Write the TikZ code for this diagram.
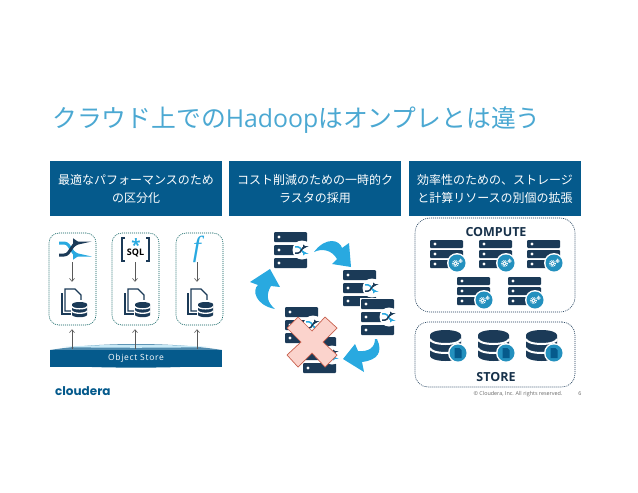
\documentclass[tikz,border=0pt]{standalone}
\usepackage{fontspec}
\setmainfont{Noto Sans CJK JP}
\newfontfamily\latinfont{Open Sans}
\newfontfamily\logofont{Poppins}
\usetikzlibrary{arrows.meta}
\definecolor{barblue}{HTML}{055A8C}
\definecolor{navybar}{HTML}{1B3A57}
\definecolor{skyblue}{HTML}{29A9E0}
\definecolor{titleblue}{HTML}{4BA8D2}
\definecolor{crossfill}{HTML}{FBD3CC}
\definecolor{crossline}{HTML}{C8604E}
\newcommand{\rackglyph}[3]{
    \foreach \k in {0,1,2} {
        \fill[navybar, rounded corners=1pt] (0,{\k*(#2+#3)}) rectangle ++(#1,#2);
        \fill[white] (5,{\k*(#2+#3)+#2/2}) circle (1.6);
    }
}
\newcommand{\shuffleglyph}[3]{
    \draw[skyblue, line width=#1, -{Triangle[length=#2,width=#3]}]
        (-13,-6) -- (-8,-6) .. controls (-1,-6) and (-1,6) .. (6,6) -- (8,6);
    \draw[navybar, line width=#1, -{Triangle[length=#2,width=#3]}]
        (-13,6) -- (-8,6) .. controls (-1,6) and (-1,-6) .. (6,-6) -- (8,-6);
}
\newcommand{\dbglyph}[1]{
    \fill[navybar] (0,5) arc[start angle=180, end angle=360, x radius=15.5, y radius=5]
        -- (31,26) arc[start angle=0, end angle=180, x radius=15.5, y radius=5] -- cycle;
    \draw[white, line width=#1] (0,9) arc[start angle=180, end angle=0, x radius=15.5, y radius=5];
    \draw[white, line width=#1] (0,18) arc[start angle=180, end angle=0, x radius=15.5, y radius=5];
}
\tikzset{
    headerbox/.style={
        fill=barblue,
        text=white,
        minimum width=172,
        minimum height=55,
        align=center,
        font=\fontsize{12}{18}\selectfont
    },
    groupbox/.style={
        draw=#1,
        dash pattern=on 1pt off 1pt,
        line width=.6pt,
        rounded corners=10pt,
        inner sep=0pt
    },
    iconbox/.style={minimum width=27, inner sep=0pt},
    feed/.style={draw=black!65, line width=.6pt, -{Straight Barb[length=3pt,width=5pt]}},
    bigletters/.style={font=\latinfont\bfseries\fontsize{12.5}{14}\selectfont, text=navybar!85!black},
    blockarrow/.style={fill=skyblue},
    rackbig/.pic={\rackglyph{33}{10}{3}},
    racksmall/.pic={\rackglyph{33}{8}{2}},
    shufflebadge/.pic={
        \fill[white] (0,0) circle (9.5);
        \begin{scope}[scale=.52]
            \shuffleglyph{1.5pt}{3pt}{4.5pt}
        \end{scope}
    },
    gearbadge/.pic={
        \fill[white] (0,0) circle (10);
        \fill[skyblue!85!black] (0,0) circle (8.5);
        \draw[white, line width=.9pt] (-1.5,.5) circle (1.8);
        \draw[white, line width=1pt, dash pattern=on .9pt off .9pt] (-1.5,.5) circle (3);
        \draw[white, line width=.6pt] (3.5,-2) circle (1);
        \draw[white, line width=.7pt, dash pattern=on .7pt off .7pt] (3.5,-2) circle (1.8);
    },
    docbadge/.pic={
        \fill[white] (0,0) circle (10);
        \fill[skyblue!85!black] (0,0) circle (8.5);
        \fill[barblue] (-3.5,-5) -- (1.5,-5) -- (3.5,-3) -- (3.5,5) -- (-3.5,5) -- cycle;
    },
    dbpic/.pic={\dbglyph{2pt}},
    filedb/.pic={
        \draw[navybar, line width=1.2pt] (1,5) -- (1,26) -- (15,26);
        \draw[navybar, line width=1.2pt, fill=white] (4,1) -- (14,1) -- (20,7) -- (20,23) -- (4,23) -- cycle;
        \fill[white] (9.5,12) rectangle (27.5,32);
        \begin{scope}[shift={(11,14)}, scale=.49]
            \dbglyph{1.3pt}
        \end{scope}
    }
}
\begin{document}
\begin{tikzpicture}[x=1pt, y=-1pt]
    \useasboundingbox (0,0) rectangle (638,493);

    \node[
        anchor=west,
        text=titleblue,
        inner sep=0pt,
        font=\fontsize{24.8}{28}\selectfont,
        name=title
    ] at (52,120) {クラウド上での{\latinfont Hadoop}はオンプレとは違う};

    \node[headerbox, name=headA] at (136,188.5) {最適なパフォーマンスのため\\の区分化};
    \node[headerbox, name=headB] at (315,188.5) {コスト削減のための一時的ク\\ラスタの採用};
    \node[headerbox, name=headC] at (495,188.5) {効率性のための、ストレージ\\と計算リソースの別個の拡張};

    \node[groupbox=teal!70!black, minimum width=47, minimum height=92, name=boxA] at (72.5,279) {};
    \node[groupbox=teal!70!black, minimum width=47, minimum height=92, name=boxB] at (135.5,279) {};
    \node[groupbox=teal!70!black, minimum width=47, minimum height=92, name=boxC] at (199.5,279) {};

    \node[iconbox, minimum height=26, name=shuffleA] at (72,249) {};
    \node[iconbox, minimum height=26, name=sqlB] at (135,249) {};
    \node[iconbox, minimum height=26, name=funcC] at (197,249) {};
    \node[iconbox, minimum height=47, name=filedbA] at (72,305.5) {};
    \node[iconbox, minimum height=47, name=filedbB] at (135,305.5) {};
    \node[iconbox, minimum height=47, name=filedbC] at (197,305.5) {};

    \pic at (72,249) {code={\shuffleglyph{3pt}{7pt}{9pt}}};
    \draw[navybar, line width=1.3pt] (125,238) -- (122,238) -- (122,261) -- (125,261);
    \draw[navybar, line width=1.3pt] (146,238) -- (149,238) -- (149,261) -- (146,261);
    \node[text=skyblue, inner sep=0pt, font=\latinfont\bfseries\fontsize{17}{17}\selectfont, name=sqlstar] at (136,245) {*};
    \node[text=black, inner sep=0pt, font=\latinfont\bfseries\fontsize{9}{9}\selectfont, name=sqltext] at (135.5,253) {SQL};
    \node[text=skyblue, inner sep=0pt, font=\fontspec{Liberation Serif}\itshape\fontsize{29}{29}\selectfont, name=functext] at (197,249) {f};

    \pic at (61,288) {filedb};
    \pic at (124,288) {filedb};
    \pic at (187,288) {filedb};

    \draw[feed] (shuffleA) -- (filedbA);
    \draw[feed] (sqlB) -- (filedbB);
    \draw[feed] (funcC) -- (filedbC);

    \fill[barblue!70!white] (50,350) .. controls (100,342) and (172,342) .. (222,350) -- cycle;
    \fill[white!75!skyblue] (62,347) .. controls (105,344) and (167,344) .. (210,347) .. controls (167,348) and (105,348) .. (62,347) -- cycle;
    \fill[barblue] (50,365) .. controls (100,368.5) and (172,368.5) .. (222,365) -- cycle;
    \node[
        fill=barblue,
        text=white,
        minimum width=172,
        minimum height=17,
        inner sep=0pt,
        font=\latinfont\addfontfeature{LetterSpace=8}\fontsize{8.5}{10}\selectfont,
        name=objstore
    ] at (136,358) {Object Store};

    \draw[feed] (objstore.north -| filedbA) -- (filedbA);
    \draw[feed] (objstore.north -| filedbB) -- (filedbB);
    \draw[feed] (objstore.north -| filedbC) -- (filedbC);

    \node[
        text=barblue,
        anchor=west,
        inner sep=0pt,
        font=\logofont\bfseries\fontsize{12}{14}\selectfont,
        name=logo
    ] at (55,391) {cloudera};

    \pic at (274,232) {rackbig};
    \pic at (302,250) {shufflebadge};
    \pic at (343,270) {rackbig};
    \pic at (372,288) {shufflebadge};
    \fill[white] (359.5,297.5) rectangle (395,336);
    \pic at (361,299) {rackbig};
    \pic at (389,317) {shufflebadge};
    \pic at (303,337) {rackbig};
    \pic at (332,355) {shufflebadge};
    \pic at (285,307) {rackbig};
    \pic at (313,325) {shufflebadge};

    \fill[blockarrow] (314,252) .. controls (326,236) and (340,240) .. (342,248)
        -- (349,243) -- (351,267) -- (332,264) -- (337,259)
        .. controls (332,250) and (322,248) .. (314,252) -- cycle;
    \fill[blockarrow] (377,339) .. controls (383,352) and (378,360) .. (362,362)
        -- (364,372) -- (343,359) -- (355,344) -- (358,351)
        .. controls (368,352) and (375,348) .. (375,339) -- cycle;
    \fill[blockarrow] (275,309) .. controls (255,305) and (252,290) .. (258,285)
        -- (250,282) -- (270,269) -- (280,287) -- (271,286)
        .. controls (265,296) and (268,303) .. (275,309) -- cycle;

    \draw[fill=crossfill, draw=crossline, line width=.7pt]
        (298,317) -- (312,331) -- (325,317) -- (337,328) -- (323,342) -- (337,355)
        -- (325,367) -- (312,353) -- (298,367) -- (287,355) -- (301,342) -- (287,328) -- cycle;

    \node[groupbox=navybar, rounded corners=15pt, minimum width=160, minimum height=94, name=computebox] at (495,265) {};
    \node[groupbox=navybar, rounded corners=13pt, minimum width=160, minimum height=65, name=storebox] at (495,354.5) {};
    \node[bigletters, name=computelabel] at (496,232) {COMPUTE};
    \node[bigletters, name=storelabel] at (496,377) {STORE};

    \foreach \x/\y in {430/240, 479/240, 527/240, 457/277, 508/277} {
        \pic at (\x,\y) {racksmall};
        \pic at (\x+27,\y+23) {gearbadge};
    }
    \foreach \x in {430, 478, 526} {
        \pic at (\x,330) {dbpic};
        \pic at (\x+28,353) {docbadge};
    }

    \node[
        text=black!60,
        inner sep=0pt,
        font=\latinfont\fontsize{5.4}{7}\selectfont,
        name=copyright
    ] at (518,394) {© Cloudera, Inc. All rights reserved.};
    \node[
        text=black!60,
        inner sep=0pt,
        font=\latinfont\fontsize{5.4}{7}\selectfont,
        name=pagenum
    ] at (580,394) {6};
\end{tikzpicture}
\end{document}
